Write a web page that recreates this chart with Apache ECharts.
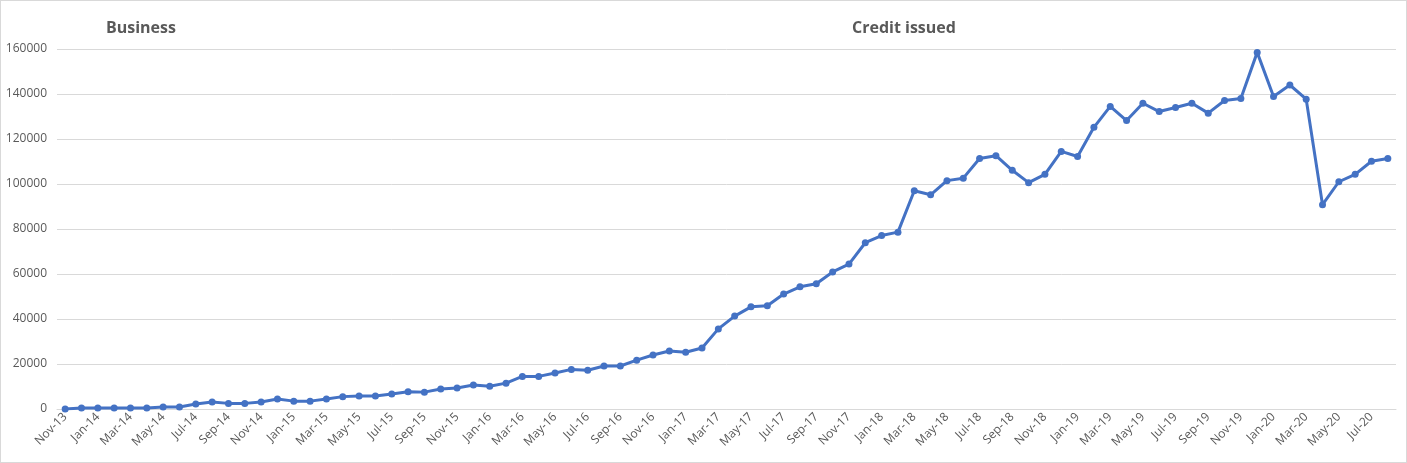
<!DOCTYPE html>
<html>
<head>
<meta charset="utf-8">
<script src="https://cdn.jsdelivr.net/npm/echarts@6/dist/echarts.min.js"></script>
<style>
  html, body { margin: 0; padding: 0; background: #fff; }
  #chart { width: 1405px; height: 461px; border: 1px solid #d9d9d9; }
</style>
</head>
<body>
<div id="chart"></div>
<script>
const months = [
  "Nov-13", "Dec-13",
  "Jan-14", "Feb-14", "Mar-14", "Apr-14", "May-14", "Jun-14", "Jul-14", "Aug-14", "Sep-14", "Oct-14", "Nov-14", "Dec-14",
  "Jan-15", "Feb-15", "Mar-15", "Apr-15", "May-15", "Jun-15", "Jul-15", "Aug-15", "Sep-15", "Oct-15", "Nov-15", "Dec-15",
  "Jan-16", "Feb-16", "Mar-16", "Apr-16", "May-16", "Jun-16", "Jul-16", "Aug-16", "Sep-16", "Oct-16", "Nov-16", "Dec-16",
  "Jan-17", "Feb-17", "Mar-17", "Apr-17", "May-17", "Jun-17", "Jul-17", "Aug-17", "Sep-17", "Oct-17", "Nov-17", "Dec-17",
  "Jan-18", "Feb-18", "Mar-18", "Apr-18", "May-18", "Jun-18", "Jul-18", "Aug-18", "Sep-18", "Oct-18", "Nov-18", "Dec-18",
  "Jan-19", "Feb-19", "Mar-19", "Apr-19", "May-19", "Jun-19", "Jul-19", "Aug-19", "Sep-19", "Oct-19", "Nov-19", "Dec-19",
  "Jan-20", "Feb-20", "Mar-20", "Apr-20", "May-20", "Jun-20", "Jul-20", "Aug-20"
];

const creditIssued = [
  0, 450,
  450, 450, 450, 450, 900, 900, 2200, 3100, 2500, 2500, 3100, 4400,
  3500, 3500, 4400, 5500, 5800, 5800, 6700, 7700, 7500, 8900, 9300, 10700,
  10100, 11500, 14500, 14500, 16000, 17600, 17200, 19100, 19100, 21700, 24000, 25800,
  25200, 27100, 35600, 41300, 45400, 45900, 51100, 54300, 55700, 60900, 64400, 73900,
  77100, 78600, 97000, 95200, 101500, 102600, 111300, 112600, 106100, 100600, 104300, 114500,
  112200, 125200, 134500, 128200, 135900, 132200, 134000, 135900, 131500, 137100, 138000, 158500,
  138900, 144000, 137700, 90800, 101000, 104300, 110100, 111300
];

const yTicks = { min: 0, max: 160000, step: 20000 };

const chart = echarts.init(document.getElementById("chart"));

const textFont = "'Open Sans', 'Liberation Sans', sans-serif";

chart.setOption({
  animation: false,
  backgroundColor: "#fff",
  title: [
    {
      text: "Business",
      left: 100,
      top: 14,
      textStyle: { fontFamily: textFont, fontSize: 16, fontWeight: "bold", color: "#595959" }
    },
    {
      text: "Credit issued",
      left: 846,
      top: 14,
      textStyle: { fontFamily: textFont, fontSize: 16, fontWeight: "bold", color: "#595959" }
    }
  ],
  grid: { left: 56, right: 10, top: 48, bottom: 53 },
  xAxis: {
    type: "category",
    data: months,
    boundaryGap: true,
    axisLine: { lineStyle: { color: "#d9d9d9" } },
    axisTick: { interval: 1, length: 5, lineStyle: { color: "#d9d9d9" } },
    axisLabel: {
      interval: 1,
      rotate: 45,
      color: "#595959",
      fontFamily: textFont,
      fontSize: 12,
      margin: 6
    }
  },
  yAxis: {
    type: "value",
    min: yTicks.min,
    max: yTicks.max,
    interval: yTicks.step,
    axisLine: { show: false },
    axisTick: { show: false },
    splitLine: { lineStyle: { color: "#d9d9d9" } },
    axisLabel: {
      color: "#595959",
      fontFamily: textFont,
      fontSize: 12,
      margin: 10,
      formatter: (v) => String(v)
    }
  },
  series: [
    {
      type: "line",
      data: creditIssued,
      symbol: "circle",
      symbolSize: 7,
      lineStyle: { color: "#4472C4", width: 3 },
      itemStyle: { color: "#4472C4" }
    }
  ]
});
</script>
</body>
</html>
